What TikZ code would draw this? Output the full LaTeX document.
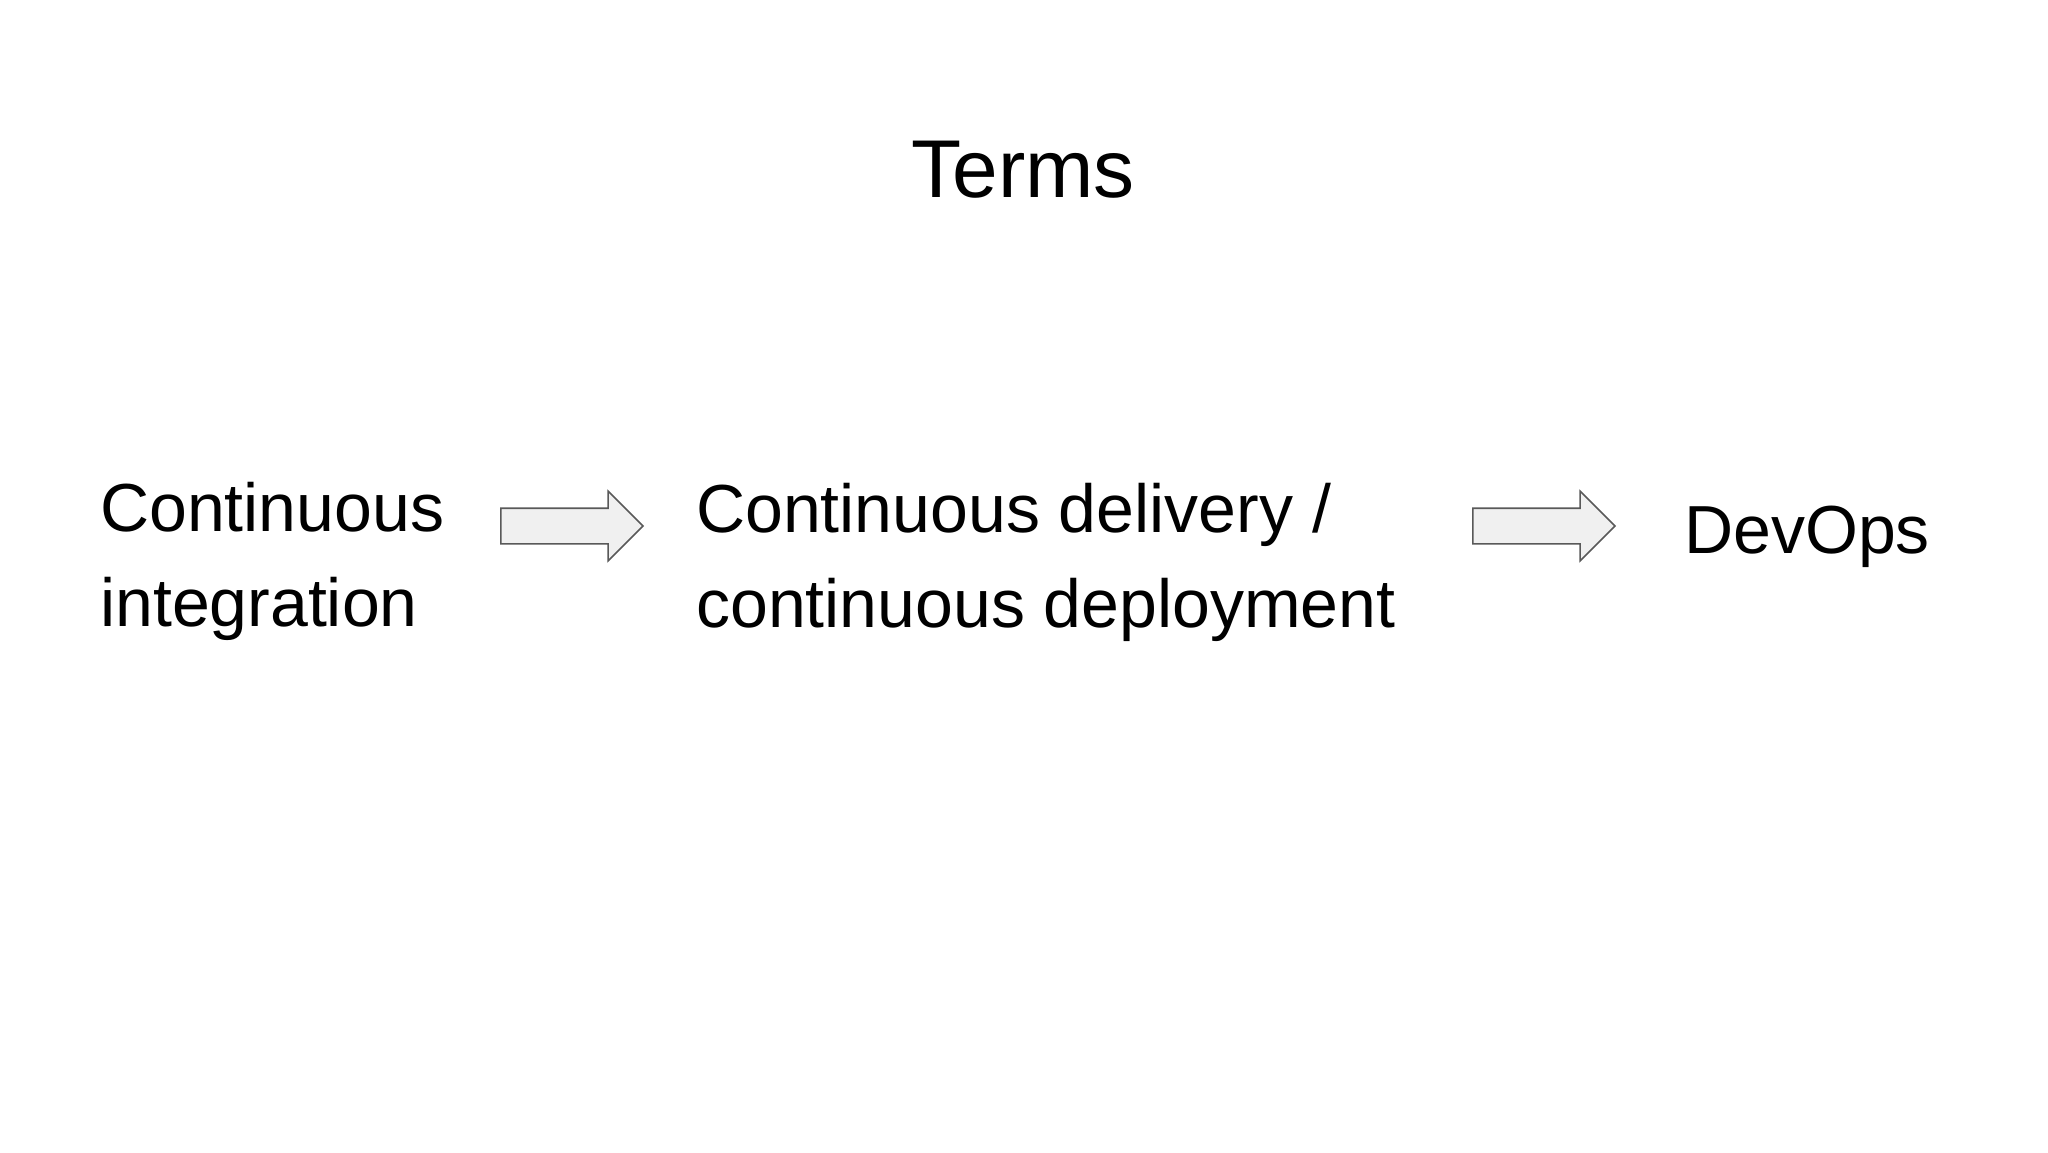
\documentclass[tikz,border=0pt]{standalone}
\usepackage{fontspec}
\setmainfont{Liberation Sans}
\usetikzlibrary{shapes.arrows}
\tikzset{
  label/.style={anchor=base west, inner sep=0pt, align=left, font=\fontsize{68}{95}\selectfont},
  blockarrow/.style={single arrow, draw=black!65, fill=black!6, line width=1.6pt,
    inner sep=0pt, inner ysep=17pt, single arrow head extend=17pt,
    single arrow tip angle=90, minimum height=142pt, minimum width=68pt, anchor=center}
}
\begin{document}
\begin{tikzpicture}[x=1pt,y=-1pt]
\useasboundingbox[fill=white] (0,0) rectangle (2048,1152);
\node[anchor=base, inner sep=0pt, font=\fontsize{82}{96}\selectfont] (title) at (1023,197) {Terms};
\node[label] (ci) at (100,626) {Continuous\\integration};
\node[label] (cd) at (696,627) {Continuous delivery /\\continuous deployment};
\node[label] (devops) at (1684,553) {DevOps};
\node[blockarrow] (a1) at (563,526) {};
\node[blockarrow] (a2) at (1535,526) {};
\end{tikzpicture}
\end{document}
